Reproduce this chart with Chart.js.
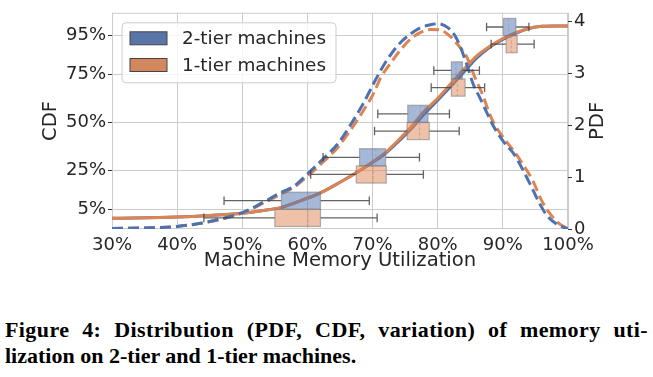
<!DOCTYPE html>
<html>
<head>
<meta charset="utf-8">
<script src="https://cdn.jsdelivr.net/npm/chart.js@4.4.0/dist/chart.umd.min.js"></script>
<style>
  html, body { margin: 0; padding: 0; background: #fff; }
  body { width: 653px; height: 377px; position: relative; overflow: hidden; }
  #plot { position: absolute; left: 0; top: 0; }
  .cap { position: absolute; left: 5px; font-family: "Liberation Serif", "DejaVu Serif", serif; font-weight: bold; font-size: 22px; line-height: 22px; color: #000; }
</style>
</head>
<body>
<canvas id="plot" width="653" height="290"></canvas>
<div class="cap" style="top:319px; width:643px; letter-spacing:0.4px; text-align:justify; text-align-last:justify;">Figure 4: Distribution (PDF, CDF, variation) of memory uti-</div>
<div class="cap" style="top:345px;">lization on 2-tier and 1-tier machines.</div>
<script>
// axis ticks
const utilTicks = [30, 40, 50, 60, 70, 80, 90, 100];
const cdfTicks = [5, 25, 50, 75, 95];
const pdfTicks = [0, 1, 2, 3, 4];
const tierNames = ['2-tier machines', '1-tier machines'];

// PDF, 2-tier (blue dashed)
const pdfUtil2 = [30, 35, 40, 43.6, 47.2, 50.3, 53.3, 55.9, 57.9, 60.5, 62.5, 64.6, 66.6, 68.6, 70.5, 72.2, 74.3, 75.8, 77.3, 78.9, 80.1, 81.6, 82.7, 83.4, 84.5, 85.5, 86.5, 87.5, 88.5, 90.1, 91.6, 92.9, 94.2, 95.4, 96.7, 98.2, 100];
const pdf2 = [0.01, 0.02, 0.05, 0.11, 0.21, 0.33, 0.52, 0.70, 0.82, 1.12, 1.36, 1.63, 2.00, 2.42, 2.88, 3.25, 3.59, 3.75, 3.87, 3.93, 3.95, 3.87, 3.71, 3.53, 3.15, 2.77, 2.52, 2.25, 1.99, 1.68, 1.46, 1.18, 0.86, 0.55, 0.27, 0.10, 0.0];

// PDF, 1-tier (orange dashed)
const pdfUtil1 = [30, 35, 40, 43.6, 47.2, 50.3, 53.3, 55.9, 57.9, 60.5, 62.5, 64.6, 66.6, 68.6, 70.2, 71.2, 72.7, 74.3, 75.8, 77.3, 78.9, 80.4, 81.9, 83.2, 84.5, 85.7, 87.0, 88.0, 88.8, 90.3, 91.7, 93.1, 94.6, 95.9, 97.2, 98.5, 100];
const pdf1 = [0.01, 0.02, 0.05, 0.11, 0.20, 0.32, 0.50, 0.67, 0.80, 1.07, 1.30, 1.56, 1.90, 2.28, 2.62, 2.90, 3.18, 3.45, 3.65, 3.78, 3.84, 3.83, 3.71, 3.53, 3.30, 2.92, 2.55, 2.20, 2.00, 1.72, 1.50, 1.24, 0.93, 0.56, 0.30, 0.12, 0.0];

// CDF (solid lines), percent
const cdfUtil = [30, 40, 45, 50, 53, 56, 59, 62, 65, 68, 70, 72, 74, 76, 78, 80, 82, 84, 86, 88, 90, 92, 94, 96, 98, 100];
const cdf1 = [0.4, 1.0, 1.8, 3.0, 4.3, 6.0, 9.5, 13.5, 19, 25, 29.5, 34.5, 41, 48, 56, 62.5, 70, 77.5, 84.5, 89.5, 93.5, 96.5, 98.8, 99.8, 100, 100];
const cdf2 = [0.4, 1.0, 1.8, 3.0, 4.3, 6.0, 9.5, 13.5, 19, 25, 29.3, 34.0, 40.2, 47.0, 54.6, 61.5, 68.6, 76.0, 83.4, 89.0, 93.0, 96.2, 98.6, 99.8, 100, 100];

// variation box plots, one per CDF level
const boxLevels = [5, 27.5, 50, 72.5, 95];
const box2Lo  = [47.2, 62.4, 70.8, 79.4, 87.5];
const box2Q1  = [56.0, 68.0, 75.4, 82.1, 90.1];
const box2Med = [60.0, 70.5, 77.3, 82.8, 90.9];
const box2Q3  = [62.0, 72.0, 78.5, 83.8, 92.0];
const box2Hi  = [69.5, 77.2, 81.8, 86.4, 94.0];
const box1Lo  = [44.1, 60.5, 70.3, 79.0, 88.2];
const box1Q1  = [55.0, 67.5, 75.3, 82.1, 90.5];
const box1Med = [60.1, 70.1, 77.2, 83.0, 91.3];
const box1Q3  = [62.0, 72.1, 78.7, 84.2, 92.2];
const box1Hi  = [70.7, 77.8, 83.3, 87.2, 94.8];

const BLUE = '#4c72b0';
const ORANGE = '#dd8452';
const TXT = '#262626';
const GRID = '#cccccc';
const FONT = { family: 'DejaVu Sans', size: 18 };
const TITLE_FONT = { family: 'DejaVu Sans', size: 19.6 };

function pts(xs, ys) { return xs.map((v, i) => ({ x: v, y: ys[i] })); }
function setTicks(list) { return s => { s.ticks = list.map(v => ({ value: v })); }; }

const tiers = [
  { lo: box2Lo, q1: box2Q1, med: box2Med, q3: box2Q3, hi: box2Hi, side: 1, fill: 'rgba(76,114,176,0.5)' },
  { lo: box1Lo, q1: box1Q1, med: box1Med, q3: box1Q3, hi: box1Hi, side: -1, fill: 'rgba(221,132,82,0.5)' }
];

const framePlugin = {
  id: 'frame',
  beforeDatasetsDraw(chart) {
    const { ctx, chartArea: a } = chart;
    ctx.save();
    ctx.strokeStyle = GRID;
    ctx.lineWidth = 1;
    ctx.strokeRect(a.left + 0.5, a.top + 0.5, a.right - a.left - 1, a.bottom - a.top - 1);
    ctx.restore();
  }
};

const boxPlugin = {
  id: 'boxes',
  afterDatasetsDraw(chart) {
    const { ctx, scales: { x, y } } = chart;
    const h = 8.9;
    ctx.save();
    tiers.forEach(t => {
      boxLevels.forEach((lvl, i) => {
        const c = lvl + t.side * h / 2;
        const yt = y.getPixelForValue(c + h / 2), yb = y.getPixelForValue(c - h / 2);
        const ym = y.getPixelForValue(c);
        const capT = y.getPixelForValue(c + h / 4), capB = y.getPixelForValue(c - h / 4);
        const xl = x.getPixelForValue(t.lo[i]), x1 = x.getPixelForValue(t.q1[i]);
        const xm = x.getPixelForValue(t.med[i]), x3 = x.getPixelForValue(t.q3[i]);
        const xh = x.getPixelForValue(t.hi[i]);
        // whiskers + caps
        ctx.strokeStyle = 'rgba(60,60,60,0.8)';
        ctx.lineWidth = 1.3;
        ctx.beginPath();
        ctx.moveTo(xl, ym); ctx.lineTo(x1, ym);
        ctx.moveTo(x3, ym); ctx.lineTo(xh, ym);
        ctx.moveTo(xl, capT); ctx.lineTo(xl, capB);
        ctx.moveTo(xh, capT); ctx.lineTo(xh, capB);
        ctx.stroke();
        // box
        ctx.fillStyle = t.fill;
        ctx.fillRect(x1, yt, x3 - x1, yb - yt);
        ctx.strokeStyle = 'rgba(120,120,120,0.55)';
        ctx.lineWidth = 1.2;
        ctx.strokeRect(x1, yt, x3 - x1, yb - yt);
        // median
        ctx.strokeStyle = 'rgba(150,150,150,0.6)';
        ctx.lineWidth = 1;
        ctx.setLineDash([3, 2]);
        ctx.beginPath();
        ctx.moveTo(xm, yt); ctx.lineTo(xm, yb);
        ctx.stroke();
        ctx.setLineDash([]);
      });
    });
    ctx.restore();
  }
};

const legendPlugin = {
  id: 'boxLegend',
  afterDraw(chart) {
    const { ctx, chartArea: a } = chart;
    const L = a.left + 10, T = a.top + 10, W = 214, H = 60;
    ctx.save();
    ctx.beginPath();
    ctx.roundRect(L, T, W, H, 4);
    ctx.fillStyle = 'rgba(255,255,255,0.8)';
    ctx.fill();
    ctx.strokeStyle = GRID;
    ctx.lineWidth = 1;
    ctx.stroke();
    const cols = ['#5975a8', '#d2875f'];
    ctx.font = '18.4px "DejaVu Sans"';
    ctx.textBaseline = 'middle';
    tierNames.forEach((name, i) => {
      const cy = T + 15.5 + i * 26.7;
      ctx.fillStyle = cols[i];
      ctx.fillRect(L + 8, cy - 6.5, 37, 13);
      ctx.strokeStyle = '#444';
      ctx.lineWidth = 1;
      ctx.strokeRect(L + 8, cy - 6.5, 37, 13);
      ctx.fillStyle = TXT;
      ctx.fillText(name, L + 60, cy + 1);
    });
    // right axis title
    ctx.font = '19.6px "DejaVu Sans"';
    ctx.translate(598, (a.top + a.bottom) / 2);
    ctx.rotate(-Math.PI / 2);
    ctx.textAlign = 'center';
    ctx.fillText('PDF', 0, 0);
    ctx.restore();
  }
};

new Chart(document.getElementById('plot'), {
  type: 'line',
  data: {
    datasets: [
      { label: '2-tier PDF', data: pts(pdfUtil2, pdf2), yAxisID: 'y1', borderColor: BLUE, borderDash: [11, 5], borderWidth: 3, pointRadius: 0, cubicInterpolationMode: 'monotone', fill: false },
      { label: '1-tier PDF', data: pts(pdfUtil1, pdf1), yAxisID: 'y1', borderColor: ORANGE, borderDash: [11, 5], borderWidth: 3, pointRadius: 0, cubicInterpolationMode: 'monotone', fill: false },
      { label: '1-tier CDF', data: pts(cdfUtil, cdf1), yAxisID: 'y', borderColor: ORANGE, borderWidth: 3, pointRadius: 0, cubicInterpolationMode: 'monotone', fill: false },
      { label: '2-tier CDF', data: pts(cdfUtil, cdf2), yAxisID: 'y', borderColor: BLUE, borderWidth: 3, pointRadius: 0, cubicInterpolationMode: 'monotone', fill: false }
    ]
  },
  options: {
    responsive: false,
    animation: false,
    layout: { padding: { top: 8, left: 0, right: 0, bottom: 0 } },
    plugins: { legend: { display: false }, tooltip: { enabled: false } },
    scales: {
      x: {
        type: 'linear', min: 30, max: 100,
        afterBuildTicks: setTicks(utilTicks),
        afterFit: s => { s.height = 61; },
        grid: { color: GRID, lineWidth: 1, drawTicks: false },
        border: { display: false },
        ticks: { callback: v => v + '%', font: FONT, color: TXT, padding: 6, maxRotation: 0, autoSkip: false },
        title: { display: true, text: 'Machine Memory Utilization', font: TITLE_FONT, color: TXT, padding: { top: 0, bottom: 17 } }
      },
      y: {
        position: 'left', min: -5.2, max: 106.8,
        afterBuildTicks: setTicks(cdfTicks),
        afterFit: s => { s.width = 112; },
        grid: { color: GRID, lineWidth: 1, tickColor: '#333', tickLength: 4 },
        border: { display: false },
        ticks: { callback: v => v + '%', font: FONT, color: TXT, padding: 2 },
        title: { display: true, text: 'CDF', font: TITLE_FONT, color: TXT, padding: { top: 39, bottom: 0 } }
      },
      y1: {
        position: 'right', min: 0, max: 4.16,
        afterBuildTicks: setTicks(pdfTicks),
        afterFit: s => { s.width = 85; },
        grid: { drawOnChartArea: false, tickColor: '#333', tickLength: 4 },
        border: { display: false },
        ticks: { font: FONT, color: TXT, padding: 2 }
      }
    }
  },
  plugins: [framePlugin, boxPlugin, legendPlugin]
});
</script>
</body>
</html>
